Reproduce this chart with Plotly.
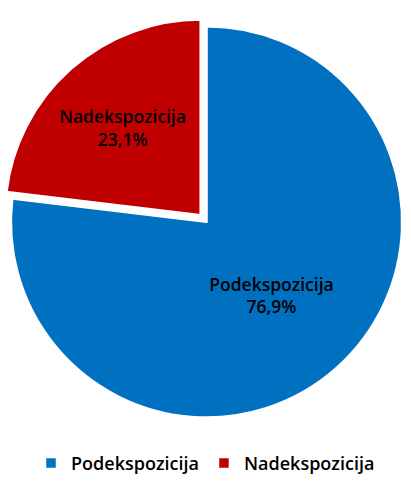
import plotly.graph_objects as go

labels = ["Podekspozicija", "Nadekspozicija"]
values = [76.9, 23.1]
colors = ["#0070C0", "#C00000"]
pulls = [0, 0.045]

fig = go.Figure(
    go.Pie(
        labels=labels,
        values=values,
        sort=False,
        direction="clockwise",
        rotation=0,
        pull=pulls,
        marker=dict(colors=colors, line=dict(color="white", width=2.5)),
        texttemplate="%{label}<br>%{percent:.1%}",
        textposition="inside",
        insidetextorientation="horizontal",
        textfont=dict(family="Open Sans", size=17.5, color="#000000", weight=600),
        hoverinfo="label+percent",
        domain=dict(x=[0.005, 1], y=[0.0855, 0.9643]),
    )
)

fig.update_layout(
    width=411,
    height=482,
    margin=dict(l=0, r=0, t=0, b=0),
    paper_bgcolor="white",
    separators=",.",
    font=dict(family="Open Sans", size=18, color="#000000"),
    showlegend=True,
    legend=dict(
        orientation="h",
        x=0.5,
        xanchor="center",
        y=0.008,
        yanchor="middle",
        font=dict(family="Open Sans", size=18, color="#000000", weight=600),
        traceorder="normal",
    ),
)

fig.write_html(
    "out.html",
    config={"displayModeBar": False},
    post_script=(
        "document.documentElement.style.margin='0';"
        "document.body.style.margin='0';"
        "document.body.style.overflow='hidden';"
    ),
)
